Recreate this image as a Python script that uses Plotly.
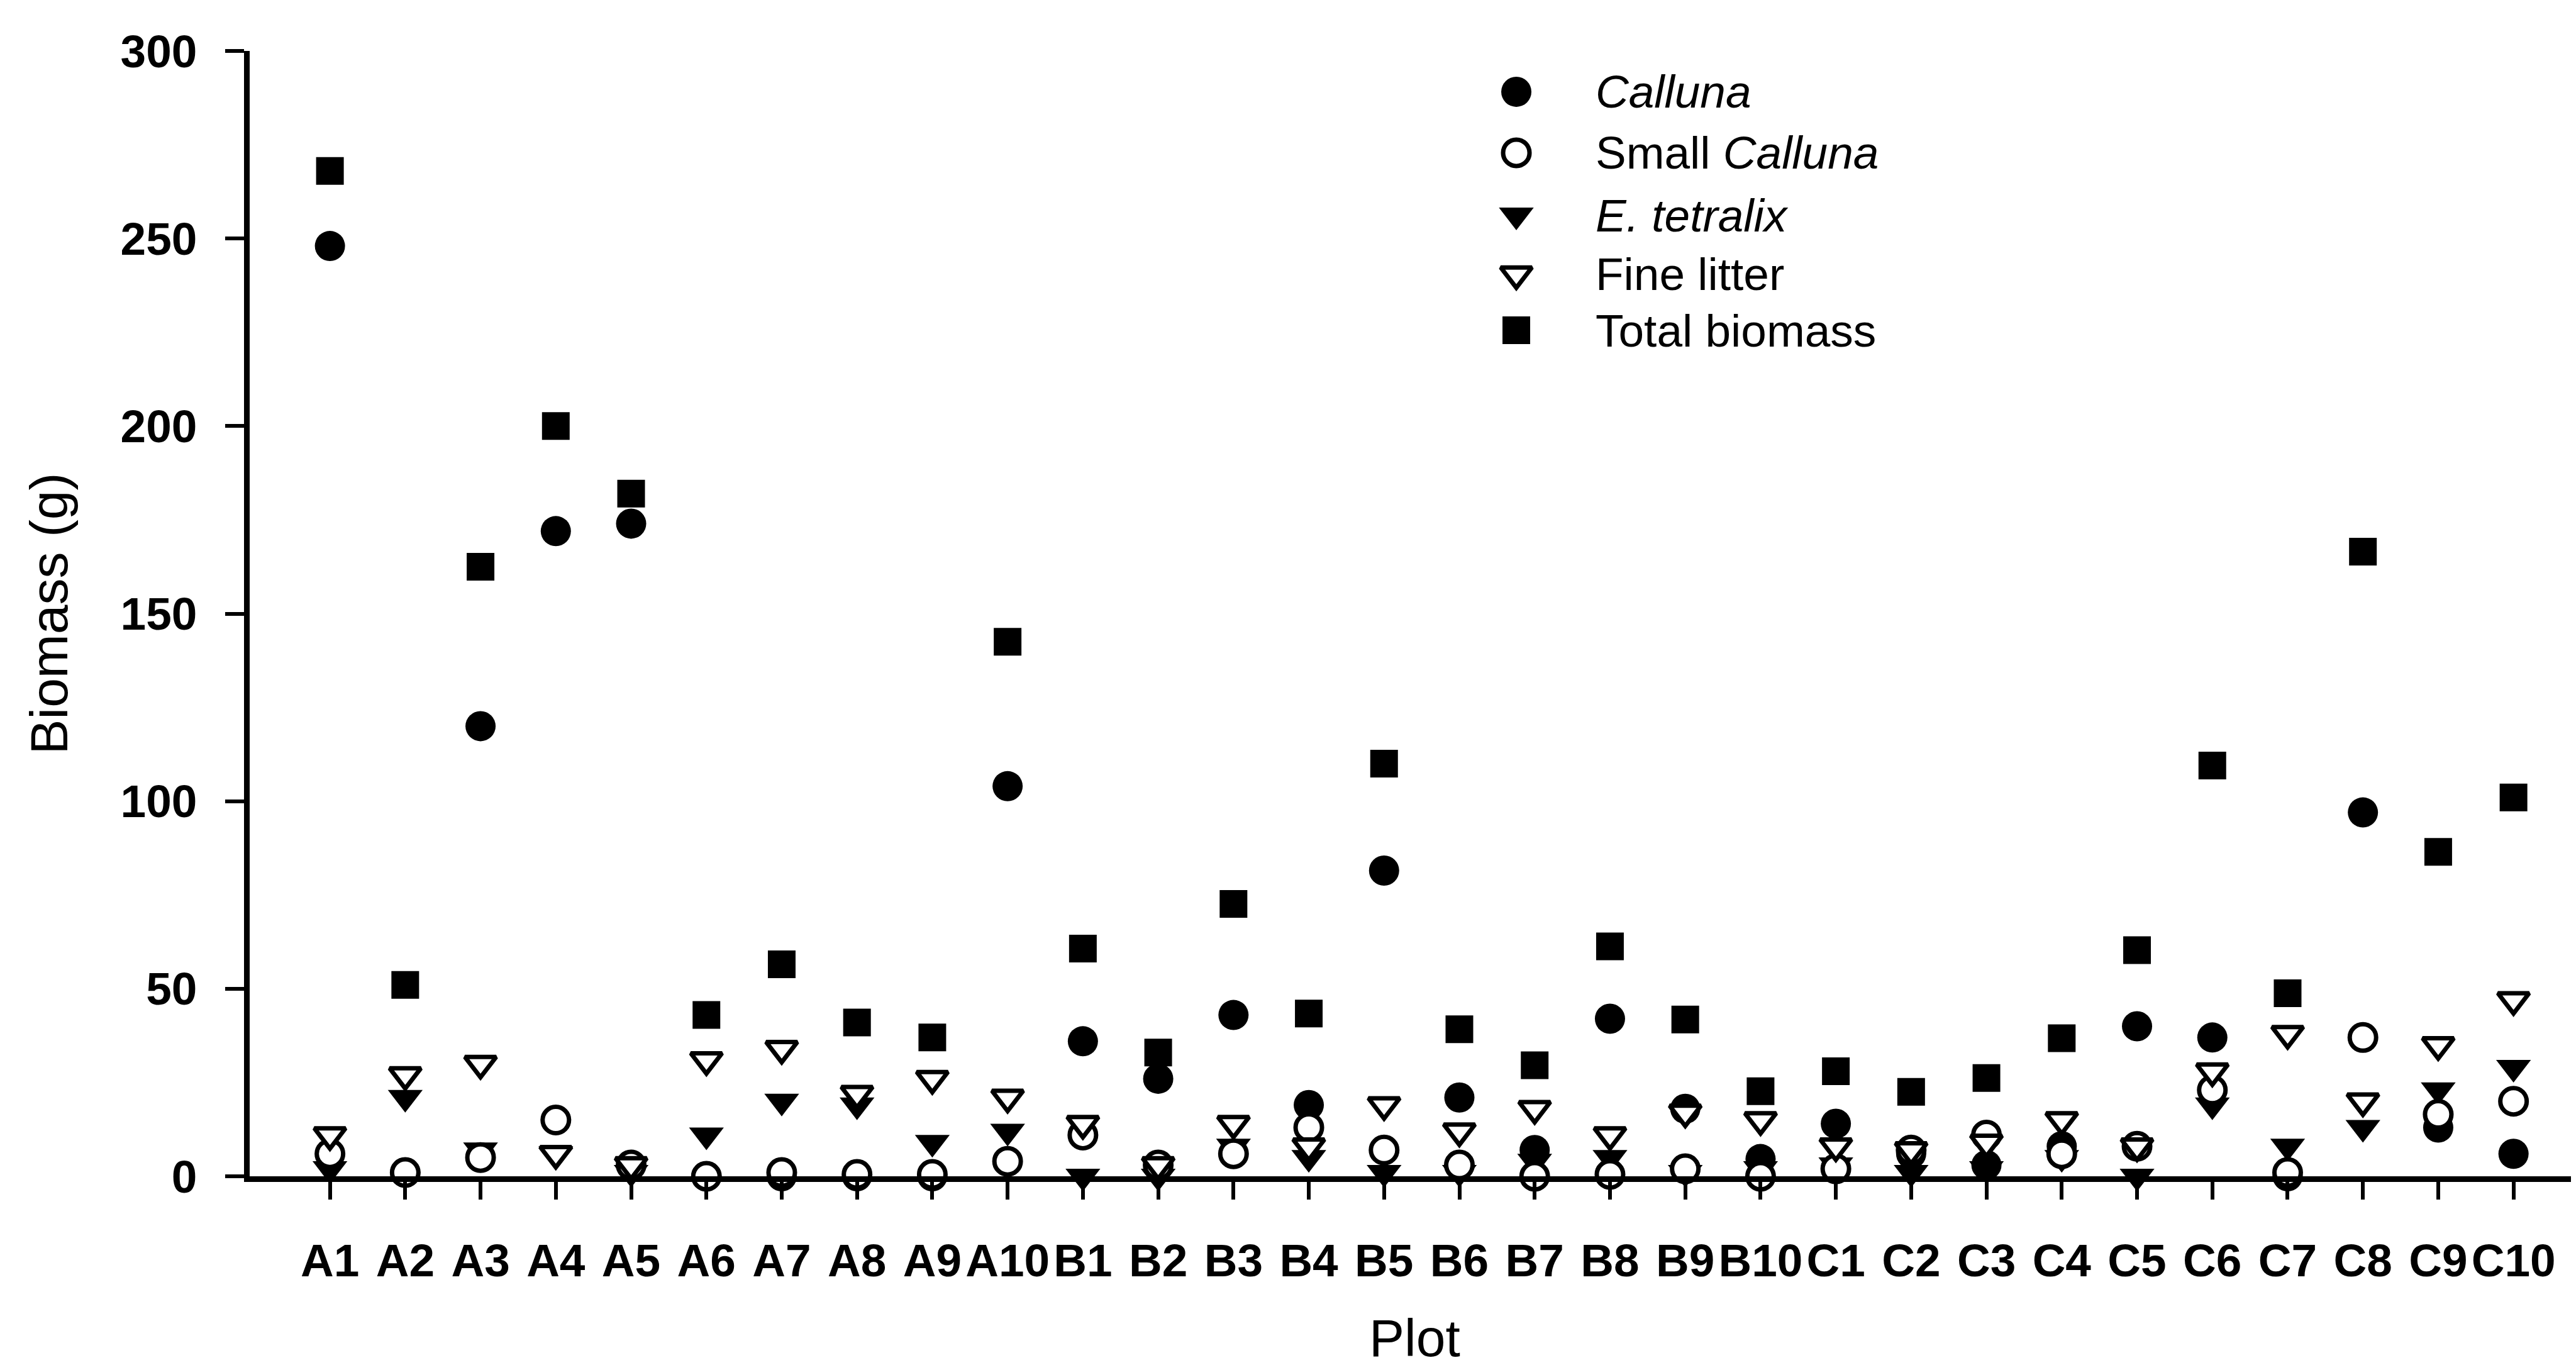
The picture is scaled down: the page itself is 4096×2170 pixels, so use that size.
import plotly.graph_objects as go

plots = ["A1", "A2", "A3", "A4", "A5", "A6", "A7", "A8", "A9", "A10",
         "B1", "B2", "B3", "B4", "B5", "B6", "B7", "B8", "B9", "B10",
         "C1", "C2", "C3", "C4", "C5", "C6", "C7", "C8", "C9", "C10"]

calluna = [248, 1, 120, 172, 174, 0, 0, 0, 0, 104,
           36, 26, 43, 19, 81.5, 21, 7, 42, 18, 4.6,
           14, 6, 3, 8, 40, 37, 0, 97, 13, 6]
small_calluna = [6, 1, 5, 15, 3, 0, 1, 0.5, 0.5, 4,
                 11, 3, 6, 13, 7, 3, 0, 0.5, 2, 0,
                 2, 7, 11, 6, 8, 23, 1, 37, 16.5, 20]
e_tetralix = [2, 21, 7, 6, 1, 11, 20, 19, 9, 12,
              0, 0, 8, 5, 1, 1, 4, 5, 1, 2,
              3, 1, 2, 5, 0, 19, 8, 13, 23, 29]
fine_litter = [11, 27, 30, 6, 3, 31, 34, 22, 26, 21,
               14, 3, 14, 8, 19, 12, 18, 11, 17, 15,
               8, 7, 9, 15, 8, 28, 38, 20, 35, 47]
total = [268, 51, 162.5, 200, 182, 43, 56.5, 41, 37, 142.5,
         60.7, 33, 72.6, 43.4, 110, 39.2, 29.6, 61.3, 41.8, 22.7,
         28, 22.5, 26.2, 36.8, 60.3, 109.5, 48.8, 166.5, 86.5, 101]

y_ticks = [0, 50, 100, 150, 200, 250, 300]

legend_names = ["<i>Calluna</i>", "Small <i>Calluna</i>", "<i>E. tetralix</i>",
                "Fine litter", "Total biomass"]

FONT = "Liberation Sans, Arial, sans-serif"

styles = {
    "calluna": dict(symbol="circle", size=48, color="black", line=dict(width=0)),
    "etet": dict(symbol="triangle-down", size=48, color="black", line=dict(width=0)),
    "small": dict(symbol="circle", size=42, color="white", line=dict(width=7, color="black")),
    "fine": dict(symbol="triangle-down", size=43, color="white", line=dict(width=7, color="black")),
    "total": dict(symbol="square", size=44, color="black", line=dict(width=0)),
}

fig = go.Figure()
for key, vals in [("calluna", calluna), ("etet", e_tetralix), ("small", small_calluna),
                  ("fine", fine_litter), ("total", total)]:
    fig.add_trace(go.Scatter(x=plots, y=vals, mode="markers", marker=styles[key],
                             cliponaxis=False, showlegend=False, hoverinfo="x+y"))

# custom legend keys (on an invisible overlay axis)
leg_x = 0.5436
leg_y = [0.9637, 0.9095, 0.8541, 0.8016, 0.7518]
for key, yy in zip(["calluna", "small", "etet", "fine", "total"], leg_y):
    st = dict(styles[key])
    fig.add_trace(go.Scatter(x=[leg_x], y=[yy], mode="markers", marker=st,
                             xaxis="x2", yaxis="y2", cliponaxis=False,
                             showlegend=False, hoverinfo="skip"))

for name, yy in zip(legend_names, leg_y):
    fig.add_annotation(x=0.5770, y=yy, xref="paper", yref="paper", text=name,
                       showarrow=False, xanchor="left", yanchor="middle",
                       font=dict(family=FONT, size=73, color="black"))

# x-axis title
fig.add_annotation(x=0.5, y=-0.171, xref="paper", yref="paper", text="Plot",
                   showarrow=False, xanchor="center", yanchor="bottom",
                   font=dict(family=FONT, size=84, color="black"))

fig.update_layout(
    width=4096, height=2170, autosize=False,
    margin=dict(l=389, r=2, t=73, b=308),
    paper_bgcolor="white", plot_bgcolor="white",
    font=dict(family=FONT, color="black"),
    xaxis=dict(type="category", categoryorder="array", categoryarray=plots,
               range=[-1.066, 29.88], tickmode="linear", dtick=1, tick0=0,
               showline=True, linewidth=9, linecolor="black",
               ticks="outside", ticklen=28, tickwidth=6, tickcolor="black",
               showgrid=False, zeroline=False, tickangle=0,
               ticklabelstandoff=34,
               tickfont=dict(family=FONT, size=73, color="black", weight="bold")),
    yaxis=dict(range=[0, 300], tickmode="array", tickvals=y_ticks,
               showline=True, linewidth=9, linecolor="black",
               ticks="outside", ticklen=30, tickwidth=6, tickcolor="black",
               showgrid=False, zeroline=False,
               ticklabelstandoff=30,
               tickfont=dict(family=FONT, size=73, color="black", weight="bold"),
               title=dict(text="Biomass (g)", standoff=60,
                          font=dict(family=FONT, size=84, color="black"))),
    xaxis2=dict(overlaying="x", range=[0, 1], visible=False, anchor="y2"),
    yaxis2=dict(overlaying="y", range=[0, 1], visible=False, anchor="x2"),
)

fig.write_html("out.html")
